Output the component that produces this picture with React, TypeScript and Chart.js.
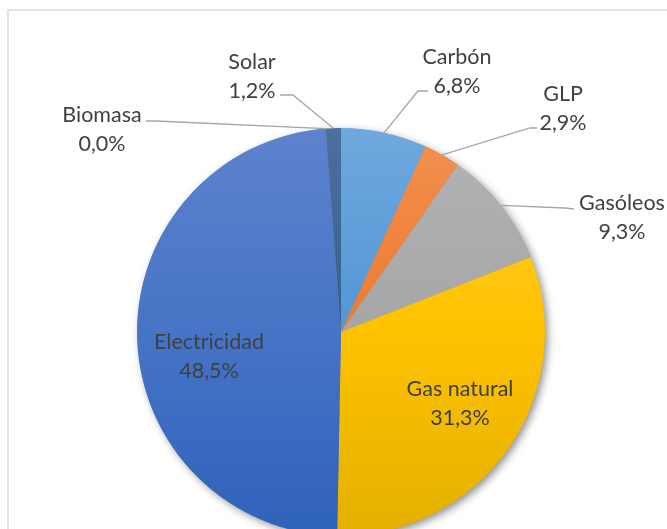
import React, { useEffect, useRef } from "react";
import { Chart, registerables } from "chart.js";

Chart.register(...registerables);

const categories = ["Carbón", "GLP", "Gasóleos", "Gas natural", "Electricidad", "Biomasa", "Solar"];
const shares = [6.8, 2.9, 9.3, 31.3, 48.5, 0.0, 1.2];
const percentLabels = ["6,8%", "2,9%", "9,3%", "31,3%", "48,5%", "0,0%", "1,2%"];

// gradient stops (top -> bottom) per slice
const sliceColors: string[][] = [
  ["#70a8de", "#5196d5", "#3f87cd"],
  ["#f39050", "#ec7a30", "#de6a1f"],
  ["#b3b3b3", "#a6a6a6", "#969696"],
  ["#ffcc33", "#ffc200", "#e3b000"],
  ["#5e82ce", "#4674c6", "#2f62ba"],
  ["#a5a5a5", "#a5a5a5", "#a5a5a5"],
  ["#4b6f9f", "#36608f", "#285383"],
];

// label layout: center x, first-line center y, optional leader polyline (elbow, end) from slice
type LabelLayout = { x: number; y: number; elbow?: [number, number]; end?: [number, number] };
const labelLayout: LabelLayout[] = [
  { x: 457, y: 57, elbow: [418, 91], end: [428, 91] },
  { x: 563, y: 94, elbow: [530, 128], end: [537, 128] },
  { x: 622, y: 203, elbow: [565, 208], end: [574, 209] },
  { x: 460, y: 389 },
  { x: 209, y: 342 },
  { x: 102, y: 115, elbow: [156, 121], end: [146, 121] },
  { x: 252, y: 62, elbow: [293, 95], end: [280, 95] },
];

const FONT = "21.5px Lato, 'Open Sans', sans-serif";
const TEXT_COLOR = "#404040";
const LINE_GAP = 29;

const framePlugin = {
  id: "frame",
  beforeDraw(chart: any) {
    const ctx = chart.ctx;
    ctx.save();
    ctx.fillStyle = "#ffffff";
    ctx.fillRect(0, 0, chart.width, chart.height);
    ctx.strokeStyle = "#d9d9d9";
    ctx.lineWidth = 1.5;
    ctx.strokeRect(8, 10, 800, 800);
    ctx.restore();
  },
};

const shadowPlugin = {
  id: "pieShadow",
  beforeDatasetsDraw(chart: any) {
    const arc = chart.getDatasetMeta(0).data[0];
    if (!arc) return;
    const ctx = chart.ctx;
    ctx.save();
    ctx.shadowColor = "rgba(0,0,0,0.45)";
    ctx.shadowBlur = 8;
    ctx.shadowOffsetX = 3;
    ctx.shadowOffsetY = 3;
    ctx.fillStyle = "#888888";
    ctx.beginPath();
    ctx.arc(arc.x, arc.y, arc.outerRadius - 0.5, 0, Math.PI * 2);
    ctx.fill();
    ctx.restore();
  },
};

const labelPlugin = {
  id: "pieLabels",
  afterDatasetsDraw(chart: any) {
    const ctx = chart.ctx;
    const meta = chart.getDatasetMeta(0);
    ctx.save();
    meta.data.forEach((arc: any, i: number) => {
      const lay = labelLayout[i];
      if (lay.elbow && lay.end) {
        const mid = (arc.startAngle + arc.endAngle) / 2;
        const px = arc.x + arc.outerRadius * Math.cos(mid);
        const py = arc.y + arc.outerRadius * Math.sin(mid);
        ctx.strokeStyle = "#a6a6a6";
        ctx.lineWidth = 1.3;
        ctx.beginPath();
        ctx.moveTo(px, py);
        ctx.lineTo(lay.elbow[0], lay.elbow[1]);
        ctx.lineTo(lay.end[0], lay.end[1]);
        ctx.stroke();
      }
      ctx.fillStyle = TEXT_COLOR;
      ctx.font = FONT;
      ctx.textAlign = "center";
      ctx.textBaseline = "middle";
      ctx.fillText(categories[i], lay.x, lay.y);
      ctx.fillText(percentLabels[i], lay.x, lay.y + LINE_GAP);
    });
    ctx.restore();
  },
};

export default function App() {
  const ref = useRef<HTMLCanvasElement | null>(null);
  useEffect(() => {
    document.body.style.margin = "0";
    const canvas = ref.current!;
    const chart = new Chart(canvas, {
      type: "pie",
      data: {
        labels: categories,
        datasets: [
          {
            data: shares,
            borderWidth: 0,
            backgroundColor: (c: any) => {
              const ch = c.chart;
              const area = ch.chartArea;
              const stops = sliceColors[c.dataIndex] || sliceColors[0];
              if (!area) return stops[1];
              const g = ch.ctx.createLinearGradient(0, area.top, 0, area.bottom);
              g.addColorStop(0, stops[0]);
              g.addColorStop(0.5, stops[1]);
              g.addColorStop(1, stops[2]);
              return g;
            },
          },
        ],
      },
      options: {
        responsive: false,
        animation: false,
        devicePixelRatio: 1,
        layout: { padding: { left: 137, right: 122, top: 128, bottom: 24 } },
        plugins: {
          legend: { display: false },
          tooltip: { enabled: false },
        },
      },
      plugins: [framePlugin, shadowPlugin, labelPlugin],
    });
    return () => chart.destroy();
  }, []);
  return (
    <div style={{ position: "fixed", left: 0, top: 0, width: 667, height: 529, overflow: "hidden", background: "#fff" }}>
      <canvas ref={ref} width={667} height={560} style={{ width: 667, height: 560, display: "block" }} />
    </div>
  );
}
